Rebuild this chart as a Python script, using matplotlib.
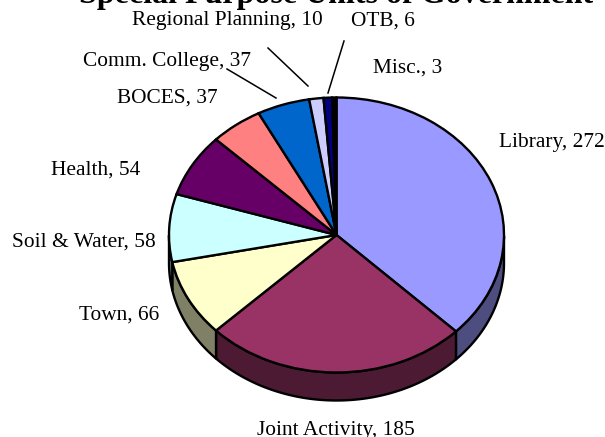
import numpy as np
import matplotlib
matplotlib.use("Agg")
import matplotlib.pyplot as plt
from matplotlib.patches import Polygon

categories = ["Library", "Joint Activity", "Town", "Soil & Water", "Health",
              "BOCES", "Comm. College", "Regional Planning", "OTB", "Misc."]
values = [272, 185, 66, 58, 54, 37, 37, 10, 6, 3]
top_colors = ["#9999FF", "#993366", "#FFFFCC", "#CCFFFF", "#660066",
              "#FF8080", "#0066CC", "#CCCCFF", "#000080", "#000000"]
side_colors = ["#4D4D80", "#4D1A33", "#808066", "#668080", "#330033",
               "#804040", "#003366", "#666680", "#000040", "#000000"]
title = "Special Purpose Units of Government"

W, H = 605, 437
cx, cy, rx, ry, depth = 336.5, 235, 167.5, 137.5, 28

plt.rcParams["font.family"] = ["Liberation Serif", "DejaVu Serif"]
fig = plt.figure(figsize=(W / 100, H / 100), dpi=100, facecolor="white")
ax = fig.add_axes([0, 0, 1, 1])
LW = 1.7

wedges, _ = ax.pie(values, colors=top_colors, startangle=90, counterclock=False,
                   wedgeprops=dict(edgecolor="black", linewidth=LW, zorder=5))
ax.set_aspect("auto")
ax.set_xlim(-cx / rx, (W - cx) / rx)
ax.set_ylim(-(H - cy) / ry, cy / ry)
ax.axis("off")
d = depth / ry

# extruded rim of the pie, from the same wedge angles
for w, sc in zip(wedges, side_colors):
    a1, a2 = sorted((w.theta1, w.theta2))
    t = np.radians(np.linspace(a1, a2, 200))
    t = t[np.sin(t) <= 0]
    if len(t) < 2:
        continue
    x, y = np.cos(t), np.sin(t)
    pts = np.r_[np.c_[x, y], np.c_[x[::-1], y[::-1] - d]]
    ax.add_patch(Polygon(pts, closed=True, facecolor=sc, edgecolor="black",
                         linewidth=LW, zorder=3, joinstyle="round"))

# labels, placed in pixel coordinates of the reference
def px(x, y):
    return (x - cx) / rx, (cy - y) / ry

label_pos = {
    "Library": (551.5, 142), "Joint Activity": (336, 430), "Town": (119.5, 315),
    "Soil & Water": (83.5, 242), "Health": (95.5, 170), "BOCES": (167.5, 98),
    "Comm. College": (167, 62), "Regional Planning": (227.5, 21),
    "OTB": (383, 21), "Misc.": (407.5, 68),
}
for c, v in zip(categories, values):
    ax.text(*px(*label_pos[c]), f"{c}, {v}", ha="center", va="center",
            fontsize=15.4, color="black", zorder=6)

for p0, p1 in [((344, 41), (328, 93)), ((268, 48), (308, 86)), ((227, 69), (276, 98))]:
    a, b = px(*p0), px(*p1)
    ax.plot([a[0], b[0]], [a[1], b[1]], color="black", lw=1.1, zorder=6)

ax.text(*px(336, 3), title, ha="center", va="baseline", fontsize=23,
        fontweight="bold", color="black", zorder=6)

fig.savefig("out.png", dpi=100)
